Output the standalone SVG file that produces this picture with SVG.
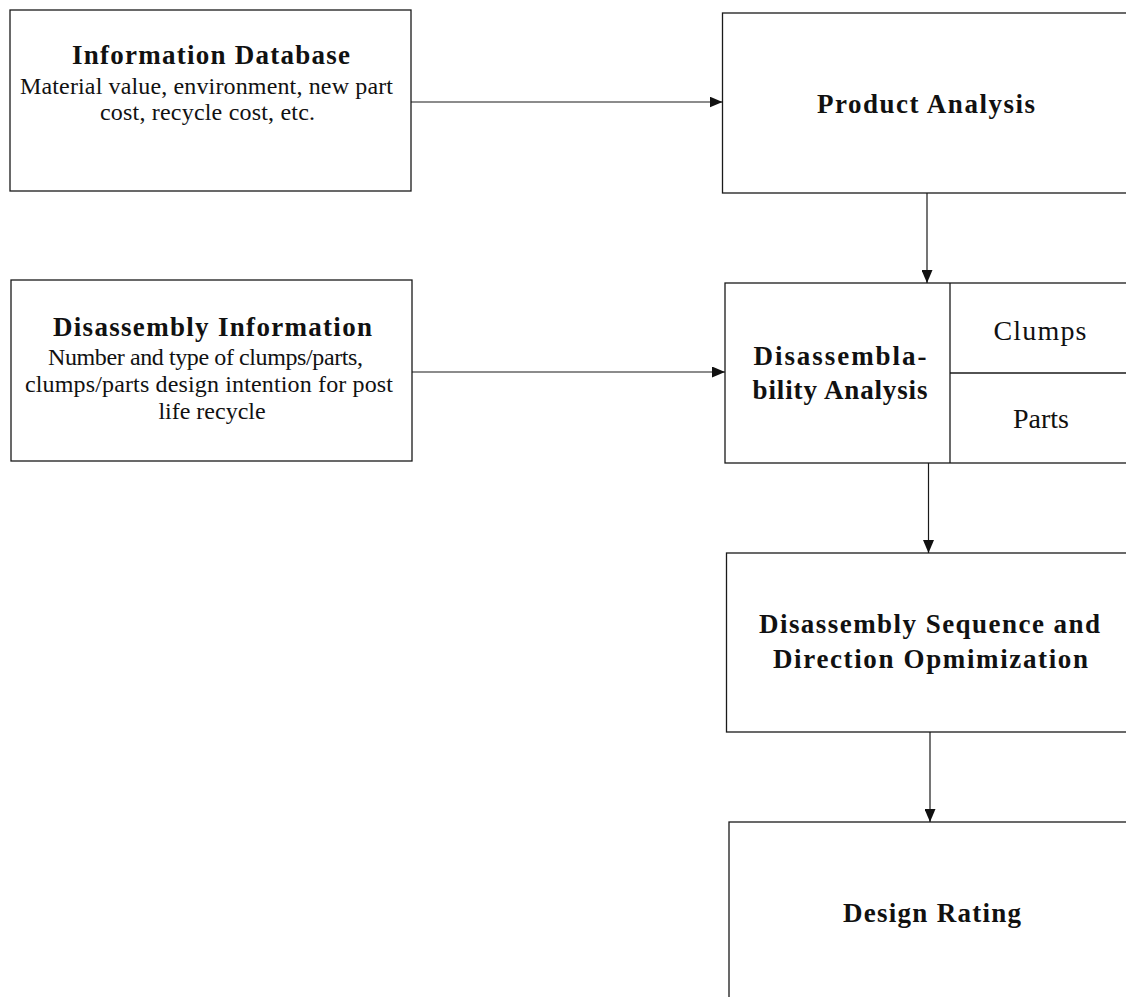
<svg xmlns="http://www.w3.org/2000/svg" width="1126" height="997" viewBox="0 0 1126 997">
  <style>
    .box { fill: #ffffff; stroke: #1a1a1a; stroke-width: 1.3; }
    .rule { stroke: #1a1a1a; stroke-width: 1.3; fill: none; }
    .edge { stroke: #1a1a1a; stroke-width: 1.2; fill: none; marker-end: url(#arrow); }
    .title { font-family: "Liberation Serif", "Times New Roman", serif; font-weight: bold; font-size: 27px; fill: #111; text-anchor: middle; }
    .body { font-family: "Liberation Serif", "Times New Roman", serif; font-size: 24px; fill: #111; text-anchor: middle; }
    .cell { font-family: "Liberation Serif", "Times New Roman", serif; font-size: 28px; fill: #111; text-anchor: middle; }
  </style>
  <defs>
    <marker id="arrow" markerUnits="userSpaceOnUse" markerWidth="14" markerHeight="11" refX="13" refY="5.5" orient="auto">
      <path d="M0,0 L13,5.5 L0,11 Z" fill="#111"/>
    </marker>
  </defs>
  <rect width="1126" height="997" fill="#ffffff"/>

  <g id="information-database">
    <rect class="box" x="10" y="10" width="401" height="181"/>
    <text class="title" x="211" y="64" textLength="278">Information Database</text>
    <text class="body" x="206.5" y="94" textLength="373">Material value, environment, new part</text>
    <text class="body" x="207.5" y="120" textLength="215">cost, recycle cost, etc.</text>
  </g>

  <g id="disassembly-information">
    <rect class="box" x="11" y="280" width="401" height="181"/>
    <text class="title" x="212.5" y="336" textLength="319">Disassembly Information</text>
    <text class="body" x="205.5" y="365" textLength="315">Number and type of clumps/parts,</text>
    <text class="body" x="209" y="392" textLength="368">clumps/parts design intention for post</text>
    <text class="body" x="212" y="419">life recycle</text>
  </g>

  <g id="product-analysis">
    <rect class="box" x="722.5" y="13" width="420" height="180"/>
    <text class="title" x="926" y="113" textLength="218">Product Analysis</text>
  </g>

  <g id="disassemblability-analysis">
    <rect class="box" x="725" y="283" width="420" height="180"/>
    <line class="rule" x1="950" y1="283" x2="950" y2="463"/>
    <line class="rule" x1="950" y1="373" x2="1130" y2="373"/>
    <text class="title" x="840" y="365" textLength="173">Disassembla-</text>
    <text class="title" x="840" y="399" textLength="175">bility Analysis</text>
    <text class="cell" x="1040" y="340" textLength="93">Clumps</text>
    <text class="cell" x="1041" y="428">Parts</text>
  </g>

  <g id="sequence-optimization">
    <rect class="box" x="726.5" y="553" width="420" height="179"/>
    <text class="title" x="929.5" y="633" textLength="341">Disassembly Sequence and</text>
    <text class="title" x="930.5" y="668" textLength="315">Direction Opmimization</text>
  </g>

  <g id="design-rating">
    <rect class="box" x="729" y="822" width="420" height="200"/>
    <text class="title" x="932" y="922" textLength="178">Design Rating</text>
  </g>

  <g id="connectors">
    <line class="edge" x1="411" y1="102" x2="722.5" y2="102"/>
    <line class="edge" x1="412" y1="372" x2="725" y2="372"/>
    <line class="edge" x1="927" y1="193" x2="927" y2="283"/>
    <line class="edge" x1="928.5" y1="463" x2="928.5" y2="553"/>
    <line class="edge" x1="930" y1="732" x2="930" y2="822"/>
  </g>
</svg>
